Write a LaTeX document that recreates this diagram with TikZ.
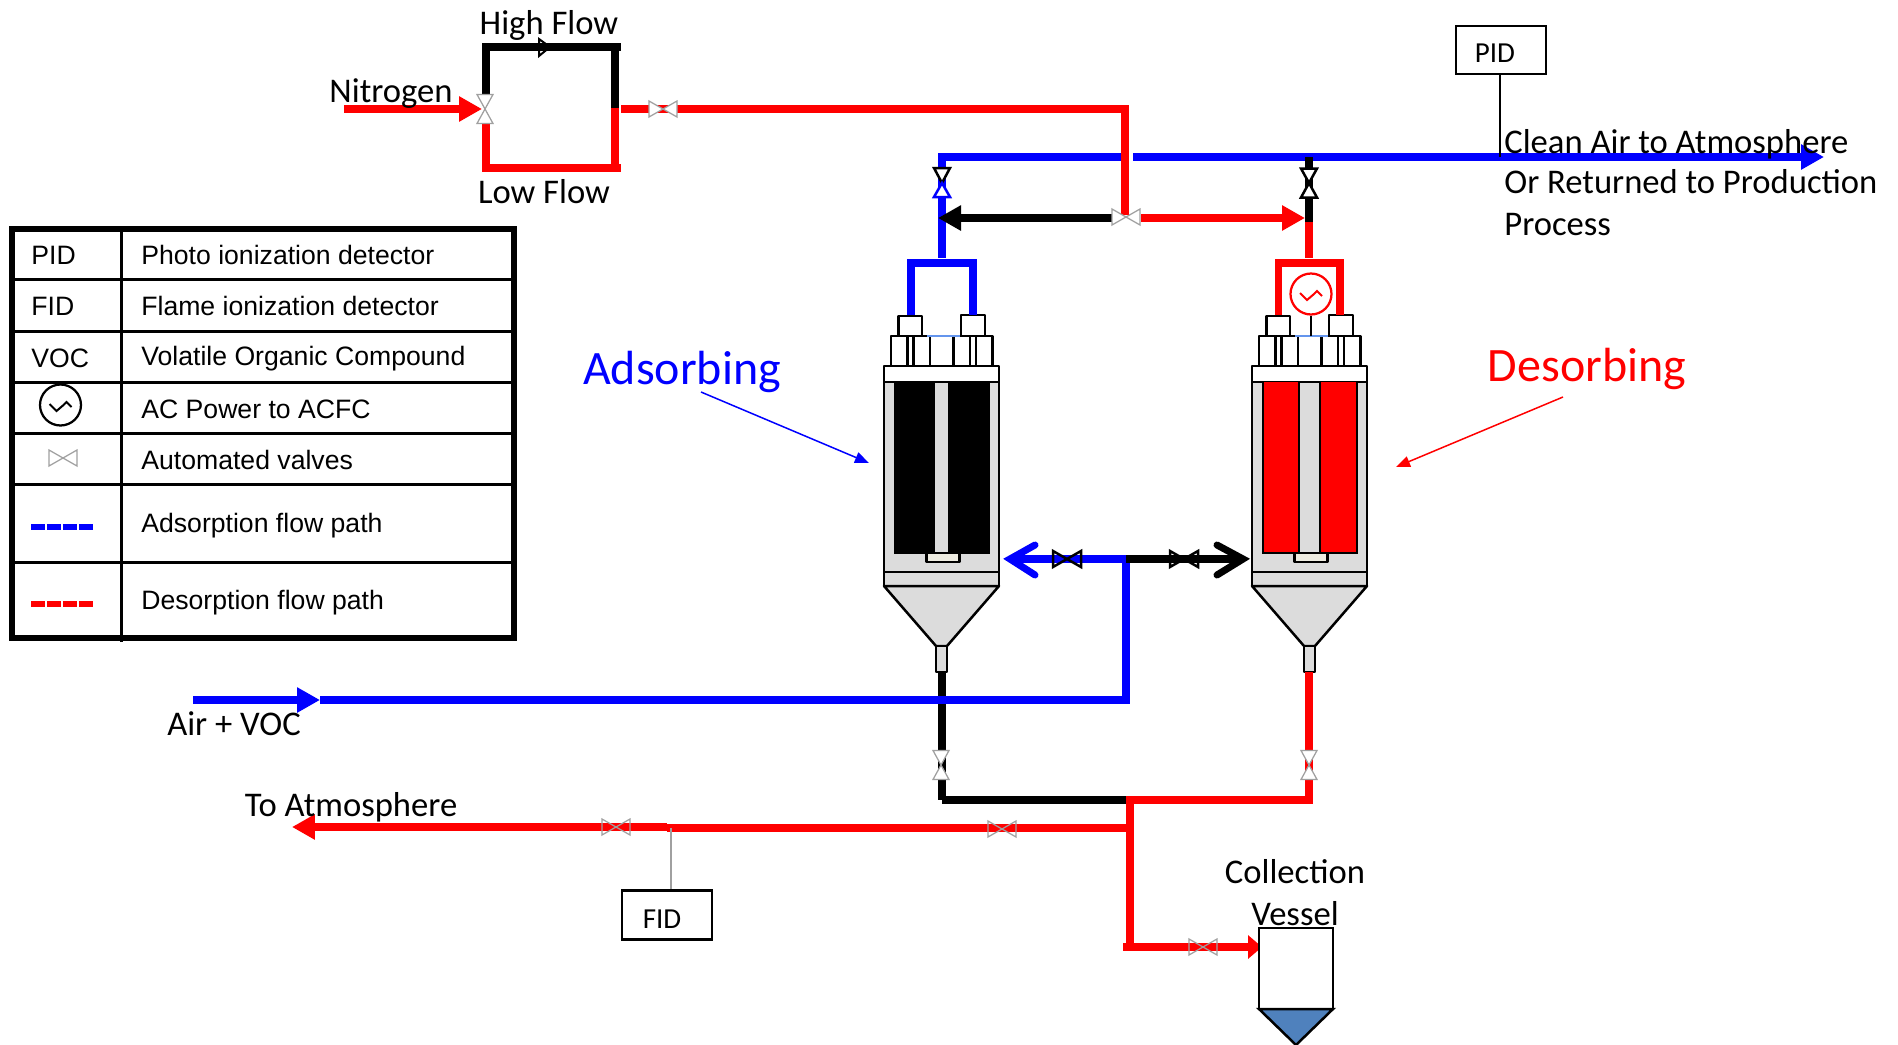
\documentclass[tikz,border=0pt]{standalone}
\usepackage{fontspec}
\setmainfont{Carlito}
\newfontfamily\arialf{Liberation Sans}
\usetikzlibrary{arrows.meta}
\definecolor{pipeblue}{HTML}{0000FF}
\definecolor{pipered}{HTML}{FF0000}
\definecolor{bodygray}{HTML}{DCDCDC}
\definecolor{valvegray}{HTML}{A0A0A0}
\definecolor{linkblue}{HTML}{6495ED}
\definecolor{capcream}{HTML}{EEECE1}
\definecolor{liquid}{HTML}{4F81BD}
\tikzset{
  pipe/.style={line width=.16cm,line cap=butt,line join=miter},
  thinpipe/.style={line width=.15cm,line cap=butt,line join=miter},
  bigtip/.style={-{Triangle[length=.46cm,width=.48cm]}},
  part/.style={draw=black,line width=.05cm,line join=round},
  valveline/.style={line width=.025cm,line join=miter},
  valvebold/.style={line width=.05cm,line join=miter},
  lab/.style={font=\fontsize{19.7}{22}\selectfont,inner sep=0pt},
  smalllab/.style={font=\fontsize{16.5}{20}\selectfont,inner sep=0pt},
  biglab/.style={font=\fontsize{27.3}{32}\selectfont,inner sep=0pt},
  tabtext/.style={font=\arialf\fontsize{15.15}{18}\selectfont,inner sep=0pt,anchor=west},
  tabline/.style={line width=.06cm,draw=black},
  tabframe/.style={line width=.13cm,draw=black},
  boxnode/.style={draw=black,line width=.05cm,fill=white,inner sep=0pt,font=\fontsize{16.5}{20}\selectfont},
}
% horizontal valve: name,x,y,stroke,fill,style
\newcommand{\valveh}[6]{%
  \coordinate (#1) at (#2,#3);
  \draw[#6,draw=#4,fill=#5] ([shift={(-14,-8)}]#1) -- ([shift={(14,8)}]#1) -- ([shift={(14,-8)}]#1) -- ([shift={(-14,8)}]#1) -- cycle;}
% vertical valve
\newcommand{\valvev}[6]{%
  \coordinate (#1) at (#2,#3);
  \draw[#6,draw=#4,fill=#5] ([shift={(-8,-14.5)}]#1) -- ([shift={(8,-14.5)}]#1) -- ([shift={(-8,14.5)}]#1) -- ([shift={(8,14.5)}]#1) -- cycle;}
% reactor: x-centre, bed colour, half gap, outline of bed
\newcommand{\reactor}[4]{%
  \begin{scope}[shift={(#1,0)}]
    \draw[part,fill=white] (-57.5,366) rectangle (57.5,382);
    \draw[part,fill=bodygray] (-57.5,382) rectangle (57.5,586);
    \draw[part] (-57.5,572) -- (57.5,572);
    \draw[part,fill=bodygray] (-57.5,586) -- (-5.5,646) -- (5.5,646) -- (57.5,586) -- cycle;
    \draw[part,fill=bodygray] (-5.5,646) rectangle (5.5,672);
    \fill[#2] (-46.5,382) rectangle (-#3,553);
    \fill[#2] (#3,382) rectangle (47.5,553);
    \draw[#4,line width=.04cm] (-46.5,382) -- (-46.5,553) -- (-#3,553) -- (-#3,382);
    \draw[#4,line width=.04cm] (#3,382) -- (#3,553) -- (47.5,553) -- (47.5,382);
    \draw[part,fill=capcream] (-15,553) rectangle (18,562);
    \draw[part,fill=white] (-50.5,336) rectangle (-34,366);
    \draw[part,fill=white] (-28,336) rectangle (-11.5,366);
    \draw[part,fill=white] (12,336) rectangle (28.5,366);
    \draw[part,fill=white] (34.5,336) rectangle (51,366);
    \draw[part,fill=white] (-43,316) rectangle (-19.5,336);
    \draw[part,fill=white] (19.5,315) rectangle (43.5,336);
    \draw[linkblue,line width=.04cm] (-14.5,336) -- (18,336);
  \end{scope}}
% AC symbol: name,x,y,colour
\newcommand{\acsymbol}[4]{%
  \node[draw=#4,line width=.045cm,circle,minimum size=.82cm,inner sep=0pt,fill=white] (#1) at (#2,#3) {};
  \draw[#4,line width=.04cm] ([shift={(-11,-1)}]#1.center) -- ([shift={(-4,6)}]#1.center) -- ([shift={(3,0)}]#1.center) -- ([shift={(6,-3)}]#1.center) -- ([shift={(11,2)}]#1.center);}
\begin{document}
\begin{tikzpicture}[x=.02cm,y=-.02cm]
\useasboundingbox (0,0) rectangle (1898,1045);
% ---- junctions
\coordinate (n2s) at (344,109); \coordinate (n2v) at (482,109);
\coordinate (hfl) at (486,100); \coordinate (hftl) at (486,47); \coordinate (hftr) at (621,47);
\coordinate (hfr) at (615,47); \coordinate (flm) at (615,108);
\coordinate (lfl) at (486,123); \coordinate (lfbl) at (486,168); \coordinate (lfbr) at (621,168); \coordinate (lfr) at (615,168);
\coordinate (n2o) at (621,109); \coordinate (n2c) at (1125,109); \coordinate (n2e) at (1125,215);
\coordinate (topl) at (942,157); \coordinate (topgap) at (1121,157); \coordinate (topgap2) at (1133,157); \coordinate (topend) at (1824,157);
\coordinate (lhot) at (942,258); \coordinate (rtop) at (1309,157); \coordinate (rmid) at (1309,222); \coordinate (rhot) at (1309,258);
\coordinate (blktip) at (938,218); \coordinate (blks) at (1113,218); \coordinate (redtip) at (1305,218); \coordinate (reds) at (1141,218);
\coordinate (aconl) at (911,315); \coordinate (acoml) at (911,263); \coordinate (acomr) at (973,263); \coordinate (aconr) at (973,315);
\coordinate (bconl) at (1278.5,315); \coordinate (bcoml) at (1278.5,263); \coordinate (bcomr) at (1340,263); \coordinate (bconr) at (1340,315);
\coordinate (ains) at (193,700); \coordinate (aina) at (320,700); \coordinate (ainc) at (1126,700); \coordinate (ainu) at (1126,559);
\coordinate (bluetip) at (1010,559); \coordinate (bluw1) at (1035,545); \coordinate (bluw2) at (1035,575);
\coordinate (blkend) at (1243,559); \coordinate (blkw1) at (1217,545); \coordinate (blkw2) at (1217,575);
\coordinate (lout) at (942,672); \coordinate (lcorner) at (942,800); \coordinate (mid) at (1130,800);
\coordinate (rout) at (1309,672); \coordinate (rcorner) at (1309,800);
\coordinate (midd) at (1130,947); \coordinate (coll) at (1123,947); \coordinate (colt) at (1262,947);
\coordinate (exhs) at (1130,828); \coordinate (exhm) at (667,828); \coordinate (exhe) at (292,827);
% ---- reactors
\reactor{941.5}{black}{7.5}{black}
\reactor{1309.5}{pipered}{10.5}{black}
% ---- nitrogen loop
\draw[pipe,black] (hfl) -- (hftl) -- (hftr);
\draw[pipe,black] (hfr) -- (flm);
\draw[pipe,pipered] (lfl) -- (lfbl) -- (lfbr);
\draw[pipe,pipered] (flm) -- (lfr);
\draw[pipe,pipered,bigtip] (n2s) -- (n2v);
\draw[pipe,pipered] (n2o) -- (n2c) -- (n2e);
\draw[line width=.04cm,black] (539,39) -- (550,47) -- (539,56) -- cycle;
\valvev{vn2}{485}{109}{valvegray}{white}{valveline}
\valveh{vn2out}{663}{109}{valvegray}{white}{valveline}
% ---- top line
\draw[pipe,pipeblue] (lhot) -- (topl) -- (topgap);
\draw[pipe,pipeblue,bigtip] (topgap2) -- (topend);
\draw[pipe,black] (rtop) -- (rmid);
\draw[pipe,pipered] (rmid) -- (rhot);
\draw[pipe,black,bigtip] (blks) -- (blktip);
\draw[pipe,pipered,bigtip] (reds) -- (redtip);
\draw[thinpipe,pipeblue] (aconl) -- (acoml) -- (acomr) -- (aconr);
\draw[thinpipe,pipered] (bconl) -- (bcoml) -- (bcomr) -- (bconr);
\valveh{vmid}{1126}{217}{valvegray}{white}{valveline}
\coordinate (vl) at (942,183);
\draw[valvebold,draw=black,fill=white] (934,168) -- (950,168) -- (vl) -- cycle;
\draw[valvebold,draw=pipeblue,fill=white] (934,197) -- (950,197) -- (vl) -- cycle;
\valvev{vr}{1309}{183}{black}{white}{valvebold}
% ---- AC heater
\acsymbol{acr}{1311}{294}{pipered}
\coordinate (acrfoot) at (1311,336);
\draw[line width=.05cm,black] (acr.south) -- (acrfoot);
% ---- feed
\draw[pipe,black] (lout) -- (lcorner);
\draw[pipe,black] (lcorner) -- (1126,800);
\draw[pipe,pipered] (1126,800) -- (rcorner) -- (rout);
\draw[pipe,pipeblue,bigtip] (ains) -- (aina);
\draw[pipe,pipeblue] (aina) -- (ainc) -- (ainu);
\draw[pipe,black] (ainu) -- (blkend);
\draw[line width=.14cm,black,line cap=round,line join=miter] (blkw1) -- (blkend) -- (blkw2);
\draw[pipe,pipeblue] (ainu) -- (bluetip);
\draw[line width=.14cm,pipeblue,line cap=round,line join=miter] (bluw1) -- (bluetip) -- (bluw2);
\valveh{vblue}{1067}{559}{black}{none}{valvebold}
\valveh{vblack}{1184}{559}{black}{none}{valvebold}
\valvev{vll}{941}{765}{valvegray}{white}{valveline}
\valvev{vrl}{1309}{765}{valvegray}{white}{valveline}
% ---- exhaust and collection
\draw[pipe,pipered] (mid) -- (midd);
\draw[pipe,pipered] (exhs) -- (exhm);
\draw[pipe,pipered,bigtip] (exhm |- exhe) -- (exhe);
\draw[pipe,pipered,-{Triangle[length=.28cm,width=.46cm]}] (coll) -- (colt);
\valveh{vex1}{616}{827}{valvegray}{none}{valveline}
\valveh{vex2}{1002}{829}{valvegray}{none}{valveline}
\valveh{vcol}{1203}{947}{valvegray}{none}{valveline}
% ---- vessel
\draw[line width=.05cm,black,fill=white] (1259,928) rectangle (1333,1009);
\draw[line width=.05cm,black,fill=liquid] (1259,1009) -- (1333,1009) -- (1296,1045) -- cycle;
% ---- detectors
\node[boxnode,minimum width=1.8cm,minimum height=.98cm] (fid) at (667,915) {};
\node[smalllab] (fidt) at (662,919) {FID};
\coordinate (fidtap) at (671,828);
\draw[valvegray,line width=.025cm] (fidtap) -- (fidtap |- fid.north);
\node[boxnode,minimum width=1.8cm,minimum height=.96cm] (pid) at (1501,50) {};
\node[smalllab] (pidt) at (1495,53) {PID};
\coordinate (pidtap) at (1500,157);
\draw[black,line width=.05cm] (pidtap |- pid.south) -- (pidtap);
% ---- labels
\node[lab] (thigh) at (549,25) {High Flow};
\node[lab] (tnit) at (391,94) {Nitrogen};
\node[lab] (tlow) at (544,192) {Low Flow};
\node[lab,anchor=west] (tc1) at (1504,144) {Clean Air to Atmosphere};
\node[lab,anchor=west] (tc2) at (1504,182) {Or Returned to Production};
\node[lab,anchor=west] (tc3) at (1504,225) {Process};
\node[lab] (tair) at (234,724) {Air + VOC};
\node[lab] (tatm) at (351,807) {To Atmosphere};
\node[lab] (tcol) at (1295,872) {Collection};
\node[lab] (tves) at (1295,914) {Vessel};
\node[biglab,text=pipeblue] (tads) at (682,372) {Adsorbing};
\node[biglab,text=pipered] (tdes) at (1587,369) {Desorbing};
\coordinate (aptr) at (869,463); \coordinate (dptr) at (1396,467);
\draw[pipeblue,line width=.03cm,-{Triangle[length=.28cm,width=.22cm]}] (701,392) -- (aptr);
\draw[pipered,line width=.03cm,-{Triangle[length=.28cm,width=.22cm]}] (1563,397) -- (dptr);
% ---- legend table
\draw[tabline] (12,279) -- (514,279) (12,331) -- (514,331) (12,382) -- (514,382) (12,433) -- (514,433) (12,484) -- (514,484) (12,562) -- (514,562);
\draw[tabline] (121,229) -- (121,642);
\draw[tabframe] (12,229) rectangle (514,638);
\node[tabtext] (k1) at (31,255) {PID};
\node[tabtext] (k2) at (31,306) {FID};
\node[tabtext] (k3) at (31,358) {VOC};
\node[tabtext] (d1) at (141,255) {Photo ionization detector};
\node[tabtext] (d2) at (141,306) {Flame ionization detector};
\node[tabtext] (d3) at (141,358.5) {Volatile Organic Compound};
\node[tabtext] (d4) at (141,409) {AC Power to ACFC};
\node[tabtext] (d5) at (141,460) {Automated valves};
\node[tabtext] (d6) at (141,526) {Adsorption flow path};
\node[tabtext] (d7) at (141,603) {Desorption flow path};
\acsymbol{acl}{60.5}{405}{black}
\valveh{vlegend}{63}{458}{valvegray}{white}{valveline}
\draw[pipeblue,line width=.13cm,dash pattern=on .28cm off .04cm] (31,527) -- (94,527);
\draw[pipered,line width=.13cm,dash pattern=on .28cm off .04cm] (31,604) -- (94,604);
\end{tikzpicture}
\end{document}
